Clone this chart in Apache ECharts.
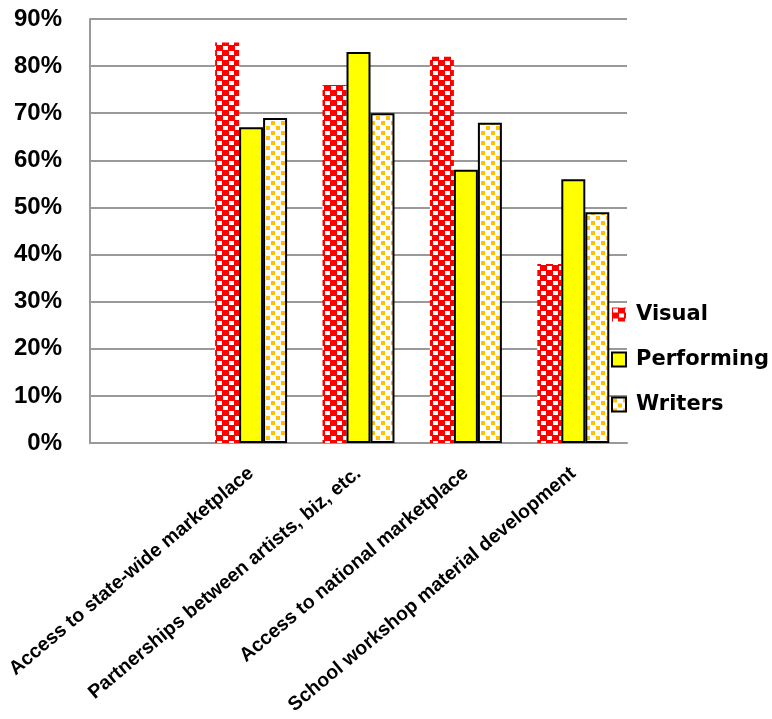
<!DOCTYPE html>
<html>
<head>
<meta charset="utf-8">
<script src="https://cdn.jsdelivr.net/npm/echarts@6/dist/echarts.min.js"></script>
<style>
html,body{margin:0;padding:0;background:#fff;}
#chart{width:772px;height:719px;}
</style>
</head>
<body>
<div id="chart"></div>
<script>
// Data
const categories = ['', 'Access to state-wide marketplace', 'Partnerships between artists, biz, etc.', 'Access to national marketplace', 'School workshop material development'];
const visual = [null, 85, 76, 82, 38];
const performing = [null, 67, 83, 58, 56];
const writers = [null, 69, 70, 68, 49];
const yTicks = [0, 10, 20, 30, 40, 50, 60, 70, 80, 90];

function visualPattern() {
  const c = document.createElement('canvas');
  c.width = 12; c.height = 10;
  const g = c.getContext('2d');
  g.fillStyle = '#FF0000';
  g.fillRect(0, 0, 12, 10);
  g.fillStyle = '#FFFFFF';
  g.fillRect(1, 1, 5, 4);
  g.fillRect(7, 6, 5, 4);
  return c;
}
function writersPattern() {
  const c = document.createElement('canvas');
  c.width = 10; c.height = 10;
  const g = c.getContext('2d');
  g.fillStyle = '#FFFFFF';
  g.fillRect(0, 0, 10, 10);
  g.fillStyle = '#FFC000';
  g.fillRect(1, 1, 4, 4);
  g.fillRect(6, 6, 4, 4);
  return c;
}

const chart = echarts.init(document.getElementById('chart'), null, {renderer: 'canvas'});
const font = "'DejaVu Sans', 'Liberation Sans', sans-serif";
const aFont = "'Liberation Sans', Arial, sans-serif";
chart.setOption({
  animation: false,
  textStyle: {fontFamily: font},
  grid: {left: 90, right: 145, top: 19, bottom: 276, containLabel: false, outerBoundsMode: 'none'},
  legend: {
    orient: 'vertical',
    left: 606,
    top: 299,
    itemWidth: 14,
    itemHeight: 14,
    itemGap: 24,
    icon: 'rect',
    textStyle: {fontSize: 21, fontWeight: 'bold', color: '#000', fontFamily: font, padding: [0, 0, 0, 5]},
    data: ['Visual', 'Performing', 'Writers']
  },
  xAxis: {
    type: 'category',
    data: categories,
    axisLine: {lineStyle: {color: '#999', width: 2}},
    axisTick: {show: false},
    axisLabel: {
      interval: 0,
      rotate: 40,
      margin: 28,
      fontSize: 19.5,
      fontWeight: 'bold',
      color: '#000',
      fontFamily: aFont
    }
  },
  yAxis: {
    type: 'value',
    min: yTicks[0],
    max: yTicks[yTicks.length - 1],
    interval: 10,
    axisLine: {show: true, lineStyle: {color: '#999', width: 2}},
    axisTick: {show: false},
    splitLine: {lineStyle: {color: '#999', width: 2}},
    axisLabel: {
      formatter: '{value}%',
      margin: 28,
      fontSize: 24,
      fontWeight: 'bold',
      color: '#000',
      fontFamily: aFont
    }
  },
  series: [
    {
      name: 'Visual', type: 'bar', data: visual,
      barGap: '0%', barCategoryGap: '33%',
      itemStyle: {color: {image: visualPattern(), repeat: 'repeat'}}
    },
    {
      name: 'Performing', type: 'bar', data: performing,
      itemStyle: {color: '#FFFF00', borderColor: '#000', borderWidth: 2}
    },
    {
      name: 'Writers', type: 'bar', data: writers,
      itemStyle: {color: {image: writersPattern(), repeat: 'repeat'}, borderColor: '#000', borderWidth: 2}
    }
  ]
});
</script>
</body>
</html>
